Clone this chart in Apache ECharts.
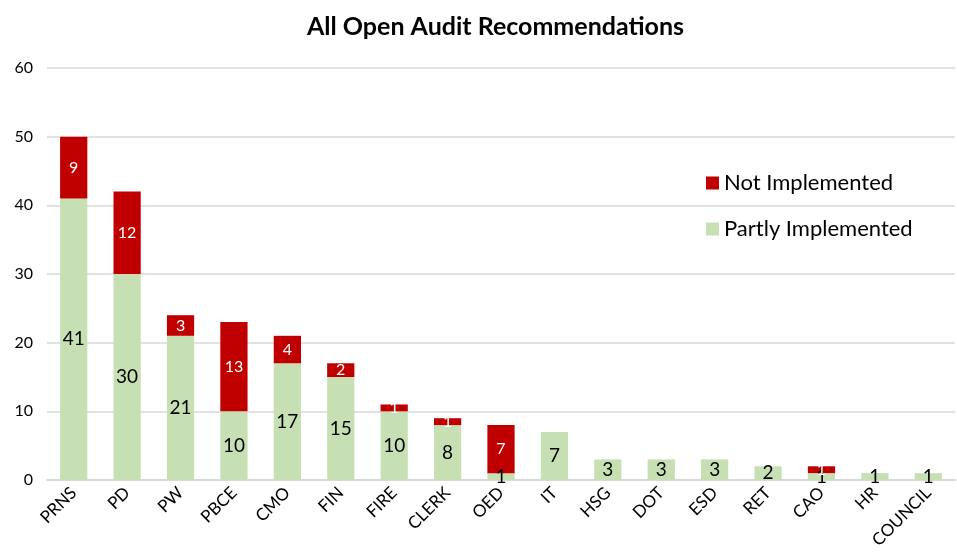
<!DOCTYPE html>
<html><head><meta charset="utf-8">
<script src="https://cdn.jsdelivr.net/npm/echarts@6/dist/echarts.min.js"></script>
<style>html,body{margin:0;padding:0;background:#fff}#c{width:957px;height:556px}</style>
</head><body><div id="c"></div>
<script>
const categories = ['PRNS','PD','PW','PBCE','CMO','FIN','FIRE','CLERK','OED','IT','HSG','DOT','ESD','RET','CAO','HR','COUNCIL'];
const partly = [41,30,21,10,17,15,10,8,1,7,3,3,3,2,1,1,1];
const notImpl = [9,12,3,13,4,2,1,1,7,0,0,0,0,0,1,0,0];
const yTicks = [0,10,20,30,40,50,60];
const FONT = 'Lato, "DejaVu Sans", sans-serif';
const chart = echarts.init(document.getElementById('c'));
chart.setOption({
  animation:false,
  title:{text:'All Open Audit Recommendations',left:302,top:9,
    textStyle:{fontFamily:FONT,fontWeight:'bold',fontSize:25,color:'#000'}},
  legend:{orient:'vertical',left:701,top:167,itemGap:24,itemWidth:13,itemHeight:13,icon:'rect',
    data:['Not Implemented','Partly Implemented'],
    textStyle:{fontFamily:FONT,fontSize:22,color:'#000'}},
  grid:{left:47,right:2,top:68,bottom:76,containLabel:false},
  xAxis:{type:'category',data:categories,
    axisLine:{lineStyle:{color:'#d9d9d9',width:2}},axisTick:{show:false},
    axisLabel:{rotate:45,fontFamily:FONT,fontSize:17,color:'#000',interval:0,margin:10}},
  yAxis:{type:'value',min:yTicks[0],max:yTicks[yTicks.length-1],interval:10,
    axisLine:{show:false},axisTick:{show:false},
    splitLine:{lineStyle:{color:'#d9d9d9',width:1.5}},
    axisLabel:{fontFamily:FONT,fontSize:16,color:'#000',margin:14}},
  series:[
    {name:'Partly Implemented',type:'bar',stack:'s',barWidth:'51%',data:partly,
     itemStyle:{color:'#c6e0b4'},
     label:{show:true,position:'inside',fontFamily:FONT,fontSize:19,color:'#000'}},
    {name:'Not Implemented',type:'bar',stack:'s',data:notImpl,
     itemStyle:{color:'#c00000'},
     label:{show:true,position:'inside',fontFamily:FONT,fontSize:16,color:'#fff',
       formatter:p=>p.value?p.value:''}}
  ]
});
</script></body></html>
